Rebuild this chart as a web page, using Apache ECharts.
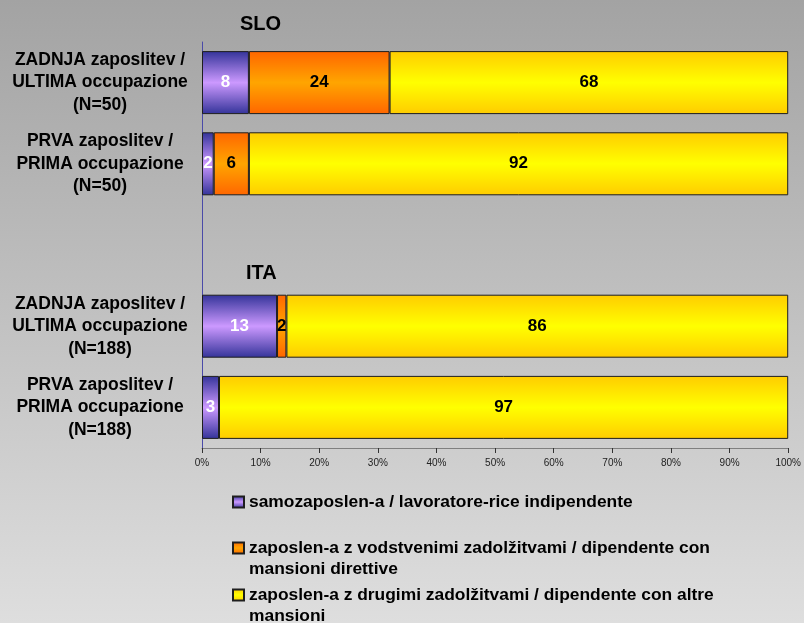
<!DOCTYPE html>
<html>
<head>
<meta charset="utf-8">
<title>SLO / ITA</title>
<script src="https://cdn.jsdelivr.net/npm/echarts@6/dist/echarts.min.js"></script>
<style>
    html, body { margin: 0; padding: 0; }
    #chart { width: 804px; height: 623px; }
</style>
</head>
<body>
<div id="chart"></div>
<script>
/* podatki */
var categories = [
    'ZADNJA zaposlitev /\nULTIMA occupazione\n(N=50)',
    'PRVA zaposlitev /\nPRIMA occupazione\n(N=50)',
    '',
    'ZADNJA zaposlitev /\nULTIMA occupazione\n(N=188)',
    'PRVA zaposlitev /\nPRIMA occupazione\n(N=188)'
];
var seriesNames = [
    'samozaposlen-a / lavoratore-rice indipendente',
    'zaposlen-a z vodstvenimi zadolžitvami / dipendente con mansioni direttive',
    'zaposlen-a z drugimi zadolžitvami / dipendente con altre mansioni'
];
// prazna prva vrstica: ikona legende ostane ob prvi vrstici besedila
var legendLabels = [
    'samozaposlen-a / lavoratore-rice indipendente',
    '\nzaposlen-a z vodstvenimi zadolžitvami / dipendente con\nmansioni direttive',
    '\nzaposlen-a z drugimi zadolžitvami / dipendente con altre\nmansioni'
];
var selfEmployed = [8, 2, null, 12.8, 2.9];
var managerial = [24, 6, null, 1.6, null];
var otherDuties = [68, 92, null, 85.6, 97.1];
var groupTitles = ['SLO', 'ITA'];
var xTicks = { min: 0, max: 100, interval: 10 };

var FONT = '"Liberation Sans", Arial, sans-serif';

function band(edge, middle) {
    return {
        type: 'linear', x: 0, y: 0, x2: 0, y2: 1,
        colorStops: [
            { offset: 0, color: edge },
            { offset: 0.5, color: middle },
            { offset: 1, color: edge }
        ]
    };
}

function barSeries(name, data, fill, labelColor) {
    return {
        name: name,
        type: 'bar',
        stack: 'total',
        barWidth: 63,
        data: data,
        itemStyle: {
            color: fill,
            borderColor: '#1e1e1e',
            borderWidth: 1
        },
        label: {
            show: true,
            position: 'inside',
            color: labelColor,
            fontFamily: FONT,
            fontWeight: 'bold',
            fontSize: 17,
            formatter: function (p) {
                return Math.round(p.value);
            }
        },
        emphasis: { disabled: true }
    };
}

function legendBlock(idx, top) {
    return {
        data: [seriesNames[idx]],
        left: 232,
        top: top,
        padding: 0,
        orient: 'vertical',
        icon: 'rect',
        itemWidth: 11,
        itemHeight: 11,
        itemGap: 0,
        selectedMode: false,
        formatter: function () {
            return legendLabels[idx];
        },
        textStyle: {
            color: '#000',
            fontFamily: FONT,
            fontWeight: 'bold',
            fontSize: 17.4,
            lineHeight: 21
        }
    };
}

var chart = echarts.init(document.getElementById('chart'));
var option = {
    animation: false,
    backgroundColor: {
        type: 'linear', x: 0, y: 0, x2: 0, y2: 1,
        colorStops: [
            { offset: 0, color: '#a3a3a3' },
            { offset: 1, color: '#dedede' }
        ]
    },
    graphic: [
        {
            type: 'text', left: 240, top: 14,
            style: { text: groupTitles[0], font: 'bold 20px ' + FONT, fill: '#000' }
        },
        {
            type: 'text', left: 246, top: 263,
            style: { text: groupTitles[1], font: 'bold 20px ' + FONT, fill: '#000' }
        }
    ],
    legend: [
        legendBlock(0, 491.5),
        legendBlock(1, 516.5),
        legendBlock(2, 563.5)
    ],
    grid: {
        left: 202,
        right: 14,
        top: 42,
        bottom: 175
    },
    xAxis: {
        type: 'value',
        min: xTicks.min,
        max: xTicks.max,
        interval: xTicks.interval,
        axisLine: { show: true, lineStyle: { color: '#7f7f7f', width: 1 } },
        axisTick: { show: true, length: 5, lineStyle: { color: '#333' } },
        splitLine: { show: false },
        axisLabel: {
            margin: 10,
            color: '#222',
            fontFamily: FONT,
            fontSize: 10,
            formatter: '{value}%'
        }
    },
    yAxis: {
        type: 'category',
        inverse: true,
        data: categories,
        axisLine: { show: true, lineStyle: { color: '#4a4aa8', width: 1 } },
        axisTick: { show: false },
        axisLabel: {
            align: 'center',
            margin: 102,
            color: '#000',
            fontFamily: FONT,
            fontWeight: 'bold',
            fontSize: 17.5,
            lineHeight: 22.5,
            padding: [4, 0, 0, 0]
        }
    },
    series: [
        barSeries(seriesNames[0], selfEmployed, band('#333399', '#cc99ff'), '#fff'),
        barSeries(seriesNames[1], managerial, band('#ff6600', '#ffa500'), '#000'),
        barSeries(seriesNames[2], otherDuties, band('#ffcc00', '#ffff00'), '#000')
    ]
};
chart.setOption(option);
</script>
</body>
</html>
